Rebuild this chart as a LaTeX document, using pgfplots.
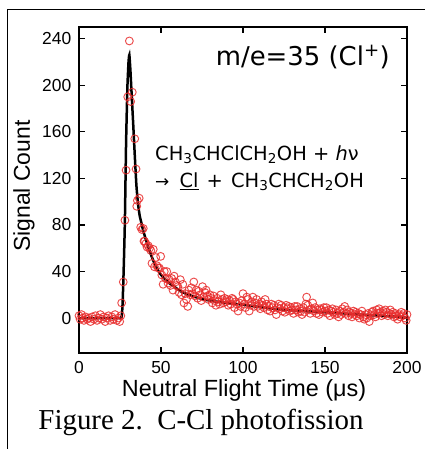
\documentclass[border=0pt]{standalone}
\usepackage{pgfplots}
\pgfplotsset{compat=1.18}
\usepackage{fontspec}
\setmainfont{Liberation Sans}
\newfontfamily\dejavu{DejaVu Sans}
\newfontfamily\timesf{Liberation Serif}
\definecolor{ptred}{RGB}{232,45,45}
\begin{document}
\begin{tikzpicture}[x=1bp,y=1bp]
\begin{axis}[
  at={(79bp,96bp)}, anchor=south west,
  scale only axis, width=328bp, height=326bp,
  xmin=0, xmax=200, ymin=-30, ymax=250,
  xtick={0,50,100,150,200}, ytick={0,40,80,120,160,200,240},
  tick align=inside, major tick length=6bp,
  axis line style={line width=1.6bp},
  every tick/.style={line width=1.4bp, black},
  tick label style={font=\fontsize{17.5}{20}\selectfont, inner sep=0pt},
  /pgf/number format/assume math mode=true,
  yticklabel style={xshift=-7.5bp},
  xticklabel style={yshift=-8.5bp},
  clip=false,
]
\addplot[black, line width=2.5bp, smooth, tension=0.3] coordinates {
(0,0) (10,0) (20,0) (25,0) (26,1) (26.5,10) (27,30) (27.5,55) (28,85) (28.7,150) (29.5,198) (30.2,220) (30.7,226) (31.3,214) (32,195) (33,168) (34,140) (35,114) (36,98) (37,88) (38,82) (39,76) (40,71) (42,62) (44,54) (46,47) (49,39) (52,34) (55,30) (58,27) (62,23) (66,20.5) (70,18.5) (76,16) (82,14.5) (90,13) (100,11.5) (110,9.5) (122,7.5) (135,6.2) (150,5) (163,3.8) (180,2.3) (200,0.8)
};
\addplot[only marks, mark=o, mark size=3.9bp, mark options={ptred, line width=0.95bp, opacity=0.85}] coordinates {
(0,2) (0.7,-1) (1.5,3) (2.2,0) (3,-2) (4,1) (5,-1) (6,0) (7,-3) (8,1) (9,-1) (10,2) (11,-2) (12,0) (13,3) (14,-1) (15,1) (16,-3) (17,0) (18,2) (19,-2) (20,1) (21,-1) (22,3) (23,-2) (24,0) (24.8,-3) (25.5,2)
(26,13) (27,31) (28,84) (28.7,127) (29.7,190) (30.7,238) (31.5,186) (32.5,194) (34,154) (34.8,128) (35.2,96) (35.6,101) (36.7,103) (37.6,78) (38.4,76) (39.2,77) (39.6,66)
(40,66) (40.8,64) (41.5,61) (42.3,62) (43,60) (43.8,58) (44.5,47) (45.3,59) (46,44) (46.8,52) (47.5,45) (48.3,43) (49,43) (49.8,53) (50.5,37) (51.3,29) (52,40) (52.8,34) (53.5,40) (54.3,30) (55,33) (55.8,28) (56.5,34) (57.3,24) (58,36) (58.8,31) (59.5,28) (60.3,27) (61,22) (61.8,33) (62.5,20) (63.3,29) (64,13) (64.8,21) (65.5,16) (66.3,10) (67,24) (67.8,20) (68.5,26) (69.3,21) (70,31) (70.8,19) (71.5,24) (72.3,17) (73,23) (73.8,20) (74.5,15) (75.3,27) (76,18) (76.8,22) (77.5,24) (78.3,19) (79,16) (79.8,20) (80.5,17) (81.3,13) (82,19) (82.8,15) (83.5,11) (84.3,17) (85,14) (85.8,12) (86.5,20) (87.3,16) (88,13) (88.8,17) (89.5,14) (90.3,16) (91,11) (91.8,15) (92.5,12) (93.3,17) (94,16) (94.8,9) (95.5,14) (96.3,12) (97,6) (97.8,13) (98.5,10) (99.3,15) (100,21) (100.8,12) (101.5,9) (102.3,18) (103,16) (103.8,6) (104.5,11) (105.3,14) (106,18) (106.8,10) (107.5,13) (108.3,16) (109,10) (109.8,12) (110.5,8) (111.3,14) (112,11) (112.8,9) (113.5,16) (114.3,12) (115,7) (115.8,10) (116.5,6) (117.3,12) (118,9) (118.8,11) (119.5,7) (120.3,3) (121,9) (121.8,12) (122.5,8) (123.3,11) (124,6) (124.8,9) (125.5,5) (126.3,11) (127,8) (127.8,10) (128.5,6) (129.3,9) (130,7) (130.8,4) (131.5,10) (132.3,7) (133,10) (133.8,5) (134.5,8) (135.3,6) (136,3) (136.8,9) (137.5,5) (138.3,12) (138.8,18) (139.5,11) (140.3,7) (141,4) (141.8,8) (142.5,13) (143.3,6) (144,9) (144.8,4) (145.5,7) (146.3,3) (147,8) (147.8,7) (148.5,5) (149.3,9) (150,6) (150.8,9) (151.5,4) (152.3,7) (153,2) (153.8,6) (154.5,8) (155.3,5) (156,3) (156.8,7) (157.5,4) (158.3,1) (159,6) (159.8,3) (160.5,8) (161.3,5) (162,10) (162.8,4) (163.5,7) (164.3,2) (165,5) (165.8,4) (166.5,1) (167.3,6) (168,3) (168.8,5) (169.5,2) (170.3,4) (171,0) (171.8,3) (172.5,6) (173.3,1) (174,-1) (174.8,3) (175.5,0) (176.3,4) (177,-3) (177.8,2) (178.5,5) (179.3,6) (180,3) (180.8,1) (181.5,7) (182.3,4) (183,8) (183.8,5) (184.5,2) (185.3,6) (186,3) (186.8,7) (187.5,5) (188.3,2) (189,4) (189.8,7) (190.5,3) (191.3,5) (192,1) (192.8,4) (193.5,2) (194.3,-1) (195,3) (195.8,1) (196.5,5) (197.3,2) (198,4) (198.8,0) (199.5,-2) (200,3)
};
\end{axis}
% texts
\node[anchor=east, inner sep=0pt, font=\dejavu\fontsize{26}{29}\selectfont] at (390bp,392bp) {m/e=35 (Cl\textsuperscript{+})};
\node[anchor=west, inner sep=0pt, font=\dejavu\fontsize{19.5}{22}\selectfont] at (155bp,294bp) {CH\textsubscript{3}CHClCH\textsubscript{2}OH + \textit{h}ν};
\node[anchor=west, inner sep=0pt, font=\dejavu\fontsize{19.5}{22}\selectfont] at (155bp,267bp) {{\fontsize{17}{18}\selectfont →}\hspace{4bp} \underline{Cl}\hspace{2bp} + \hspace{2bp}CH\textsubscript{3}CHCH\textsubscript{2}OH};
\node[inner sep=0pt, font=\fontsize{23.5}{26}\selectfont] at (244bp,59bp) {Neutral Flight Time (μs)};
\node[inner sep=0pt, rotate=90, font=\fontsize{23}{26}\selectfont] at (24bp,263bp) {Signal Count};
\node[inner sep=0pt, font=\timesf\fontsize{29}{32}\selectfont] at (201bp,27bp) {Figure 2.\ \ C-Cl photofission};
\draw[line width=1.6bp] (7.5bp,-20bp) -- (7.5bp,439.5bp) -- (450bp,439.5bp);
\pgfresetboundingbox
\path[use as bounding box] (0,0) rectangle (425bp,449bp);
\end{tikzpicture}
\end{document}
